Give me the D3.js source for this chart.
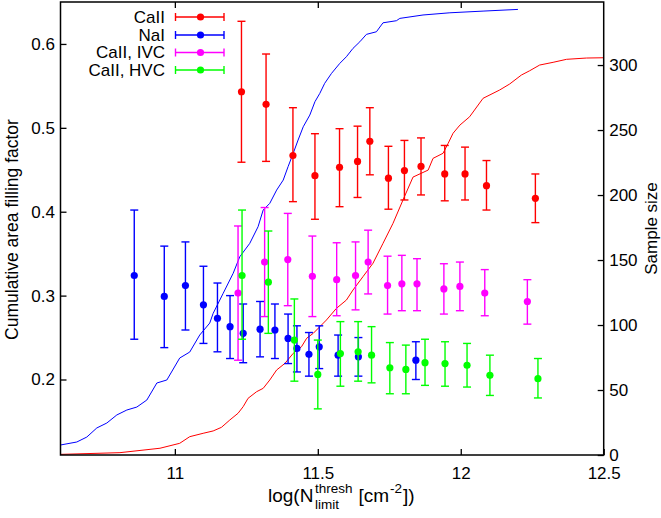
<!DOCTYPE html>
<html>
<head>
<meta charset="utf-8">
<script src="https://cdn.jsdelivr.net/npm/d3@7"></script>
<style>
  body { margin: 0; background: #fff; }
  text { font-family: "Liberation Sans", Arial, Helvetica, sans-serif; }
</style>
</head>
<body>
<svg id="chart" width="661" height="518"></svg>
<script>
// Filling factor per threshold bin: [log N, value, lower, upper]
const caII = [
  [11.233, 0.543, 0.459, 0.627], [11.319, 0.528, 0.460, 0.588],
  [11.413, 0.467, 0.412, 0.524], [11.490, 0.443, 0.391, 0.493],
  [11.576, 0.453, 0.406, 0.499], [11.639, 0.460, 0.417, 0.502],
  [11.682, 0.484, 0.444, 0.524], [11.747, 0.440, 0.403, 0.478],
  [11.803, 0.449, 0.414, 0.485], [11.861, 0.454, 0.420, 0.488],
  [11.944, 0.445, 0.413, 0.479], [12.015, 0.445, 0.414, 0.477],
  [12.090, 0.431, 0.402, 0.461], [12.261, 0.416, 0.387, 0.445]
];
const naI = [
  [10.858, 0.324, 0.248, 0.402], [10.963, 0.299, 0.238, 0.359],
  [11.037, 0.312, 0.259, 0.364], [11.100, 0.289, 0.243, 0.335],
  [11.149, 0.273, 0.233, 0.315], [11.193, 0.263, 0.225, 0.300],
  [11.239, 0.255, 0.220, 0.290], [11.298, 0.260, 0.227, 0.293],
  [11.350, 0.259, 0.225, 0.290], [11.396, 0.249, 0.219, 0.278],
  [11.427, 0.237, 0.209, 0.264], [11.469, 0.230, 0.204, 0.256],
  [11.505, 0.239, 0.213, 0.264], [11.571, 0.229, 0.204, 0.253],
  [11.642, 0.227, 0.204, 0.250], [11.843, 0.223, 0.200, 0.245]
];
const caIIivc = [
  [11.221, 0.303, 0.223, 0.383], [11.314, 0.340, 0.275, 0.405],
  [11.395, 0.343, 0.288, 0.398], [11.481, 0.323, 0.275, 0.371],
  [11.566, 0.319, 0.276, 0.363], [11.632, 0.324, 0.283, 0.364],
  [11.676, 0.340, 0.302, 0.378], [11.744, 0.312, 0.278, 0.347],
  [11.794, 0.314, 0.282, 0.348], [11.847, 0.314, 0.282, 0.344],
  [11.941, 0.308, 0.278, 0.338], [11.997, 0.311, 0.282, 0.340],
  [12.084, 0.303, 0.276, 0.331], [12.233, 0.293, 0.266, 0.319]
];
const caIIhvc = [
  [11.235, 0.324, 0.248, 0.402], [11.327, 0.316, 0.255, 0.377],
  [11.418, 0.247, 0.198, 0.296], [11.500, 0.206, 0.165, 0.247],
  [11.579, 0.231, 0.192, 0.269], [11.641, 0.233, 0.198, 0.269],
  [11.688, 0.229, 0.196, 0.263], [11.752, 0.214, 0.183, 0.244],
  [11.808, 0.212, 0.183, 0.241], [11.875, 0.220, 0.193, 0.248],
  [11.945, 0.219, 0.192, 0.245], [12.022, 0.217, 0.191, 0.243],
  [12.102, 0.205, 0.181, 0.229], [12.270, 0.201, 0.178, 0.225]
];

// Cumulative sample size vs threshold: [log N, count]
const naICumulative = [
  [10.600, 7.7], [10.657, 10], [10.692, 13.8], [10.727, 20.8], [10.762, 24.6],
  [10.797, 30.8], [10.832, 34.6], [10.867, 36.9], [10.902, 42.3], [10.937, 55.4],
  [10.972, 57.7], [11.017, 74.6], [11.052, 79.2], [11.087, 92.3], [11.122, 101.5],
  [11.134, 109], [11.169, 124.4], [11.204, 139.8], [11.227, 152.5], [11.262, 162.8],
  [11.291, 175.6], [11.309, 188.5], [11.332, 193.6], [11.356, 203.8], [11.379, 211.5],
  [11.396, 221.8], [11.414, 232.1], [11.431, 242.3], [11.449, 252.5], [11.472, 261.5],
  [11.490, 271.8], [11.507, 278.2], [11.524, 285.9], [11.548, 293.6], [11.577, 301.3],
  [11.600, 306.4], [11.623, 312.8], [11.647, 317.9], [11.670, 323.6], [11.705, 325.6],
  [11.728, 332.5], [11.775, 334.1], [11.787, 335.9], [11.868, 338.5], [11.962, 340.2],
  [12.078, 341.5], [12.200, 342.8]
];
const caIICumulative = [
  [10.601, 0.5], [10.808, 1.8], [10.948, 5.2], [11.017, 9], [11.052, 14.1],
  [11.099, 16.7], [11.134, 18.5], [11.163, 21.3], [11.192, 26.9], [11.221, 32.1],
  [11.239, 37.2], [11.256, 43.6], [11.286, 48.7], [11.309, 51.3], [11.332, 57.7],
  [11.356, 65.4], [11.385, 70.5], [11.414, 78.2], [11.443, 83.3], [11.461, 89.8],
  [11.484, 93.6], [11.507, 98.7], [11.530, 103.8], [11.565, 112.8], [11.600, 119.2],
  [11.623, 126.9], [11.658, 137.2], [11.693, 147.5], [11.728, 162.8], [11.763, 178.2],
  [11.798, 196.2], [11.833, 213.8], [11.886, 219.2], [11.903, 228.2], [11.938, 232.1],
  [11.956, 239.8], [11.973, 247.5], [11.997, 253.8], [12.031, 260.2], [12.078, 274.4],
  [12.136, 280.8], [12.171, 285.4], [12.212, 292.3], [12.241, 295.6], [12.276, 300],
  [12.323, 302.1], [12.370, 304.4], [12.440, 305.4], [12.500, 305.6]
];

const xTicks = [11, 11.5, 12, 12.5];
const yTicks = [0.2, 0.3, 0.4, 0.5, 0.6];
const y2Ticks = [0, 50, 100, 150, 200, 250, 300];
const legendLabels = ["CaII", "NaI", "CaII, IVC", "CaII, HVC"];

const svg = d3.select("#chart");
const plotL = 60.5, plotR = 603.7, plotT = 2, plotB = 455;

const x = d3.scaleLinear().domain([10.6, 12.5]).range([plotL, plotR]);
const y = d3.scaleLinear().domain([0.11, 0.65]).range([plotB, plotT]);
const y2 = d3.scaleLinear().domain([0, 348.5]).range([plotB, plotT]);

const colors = { caII: "#ff0000", naI: "#0000ff", ivc: "#ff00ff", hvc: "#00ff00" };

// cumulative sample-size curves on the right axis
const line = d3.line().x(d => x(d[0])).y(d => y2(d[1]));
svg.append("path").datum(naICumulative).attr("d", line)
  .attr("fill", "none").attr("stroke", colors.naI).attr("stroke-width", 1);
svg.append("path").datum(caIICumulative).attr("d", line)
  .attr("fill", "none").attr("stroke", colors.caII).attr("stroke-width", 1);

// error bars with caps and filled points
const cap = 4;
function drawSeries(data, color) {
  const g = svg.append("g").attr("stroke", color).attr("stroke-width", 1.4).attr("fill", "none");
  data.forEach(d => {
    const cx = x(d[0]), yl = y(d[2]), yh = y(d[3]);
    g.append("line").attr("x1", cx).attr("x2", cx).attr("y1", yl).attr("y2", yh);
    g.append("line").attr("x1", cx - cap).attr("x2", cx + cap).attr("y1", yl).attr("y2", yl);
    g.append("line").attr("x1", cx - cap).attr("x2", cx + cap).attr("y1", yh).attr("y2", yh);
  });
  svg.append("g").selectAll("circle").data(data).join("circle")
    .attr("cx", d => x(d[0])).attr("cy", d => y(d[1])).attr("r", 3.6)
    .attr("fill", color);
}
drawSeries(caII, colors.caII);
drawSeries(naI, colors.naI);
drawSeries(caIIivc, colors.ivc);
drawSeries(caIIhvc, colors.hvc);

// axes
const fs = 17;
const gx = svg.append("g").attr("transform", `translate(0,${plotB})`)
  .call(d3.axisBottom(x).tickValues(xTicks).tickSizeInner(-6).tickSizeOuter(0)
    .tickPadding(12).tickFormat(d3.format("")));
const gxt = svg.append("g").attr("transform", `translate(0,${plotT})`)
  .call(d3.axisTop(x).tickValues(xTicks.slice(0, 3)).tickSizeInner(-6).tickSizeOuter(0)
    .tickFormat(""));
const gy = svg.append("g").attr("transform", `translate(${plotL},0)`)
  .call(d3.axisLeft(y).tickValues(yTicks).tickSizeInner(-6).tickSizeOuter(0)
    .tickPadding(5.5).tickFormat(d3.format(".1f")));
const gy2 = svg.append("g").attr("transform", `translate(${plotR},0)`)
  .call(d3.axisRight(y2).tickValues(y2Ticks).tickSizeInner(-6).tickSizeOuter(0)
    .tickPadding(5.5));
[gx, gxt, gy, gy2].forEach(g => {
  g.select(".domain").remove();
  g.selectAll(".tick line").attr("stroke", "#000").attr("stroke-width", 1.3);
  g.selectAll(".tick text").attr("fill", "#000").style("font-size", fs + "px")
    .style("font-family", '"Liberation Sans", Arial, sans-serif');
});

svg.append("rect").attr("x", plotL).attr("y", plotT)
  .attr("width", plotR - plotL).attr("height", plotB - plotT)
  .attr("fill", "none").attr("stroke", "#000").attr("stroke-width", 1.5);

// axis titles
svg.append("text").attr("transform", `translate(17.5,${(plotT + plotB) / 2 + 1}) rotate(-90)`)
  .attr("text-anchor", "middle").style("font-size", "17.5px")
  .text("Cumulative area filling factor");
svg.append("text").attr("transform", `translate(${plotR + 47.5},${(plotT + plotB) / 2}) rotate(-90)`)
  .attr("text-anchor", "middle").style("font-size", fs + "px")
  .attr("dy", "0.35em")
  .text("Sample size");

// x title: log(N with stacked sub/superscript, then [cm^-2])
const big = 19, small = 13.5;
const xt = svg.append("g");
let tx = 268;
const base = 501.5;
function put(str, size, yy) {
  const t = xt.append("text").attr("x", tx).attr("y", yy).style("font-size", size + "px").text(str);
  return t.node().getComputedTextLength();
}
tx += put("log(N", big, base) + 1.5;
const w1 = put("thresh", small, base - 8.5);
const w2 = put("limit", small, base + 7);
tx += Math.max(w1, w2) + 6;
tx += put("[cm", big, base) + 1;
tx += put("-2", small, base - 9) + 1;
put("])", big, base);

// legend
const legendColors = [colors.caII, colors.naI, colors.ivc, colors.hvc];
const legendY = [17, 35, 52.5, 70];
legendLabels.forEach((lab, i) => {
  const yy = legendY[i];
  svg.append("text").attr("x", 165).attr("y", yy).attr("dy", "0.35em")
    .attr("text-anchor", "end").style("font-size", fs + "px").text(lab);
  const g = svg.append("g").attr("stroke", legendColors[i]).attr("stroke-width", 1.4);
  g.append("line").attr("x1", 175.5).attr("x2", 224).attr("y1", yy).attr("y2", yy);
  g.append("line").attr("x1", 175.5).attr("x2", 175.5).attr("y1", yy - cap).attr("y2", yy + cap);
  g.append("line").attr("x1", 224).attr("x2", 224).attr("y1", yy - cap).attr("y2", yy + cap);
  svg.append("circle").attr("cx", 200.5).attr("cy", yy).attr("r", 3.6).attr("fill", legendColors[i]);
});
</script>
</body>
</html>
